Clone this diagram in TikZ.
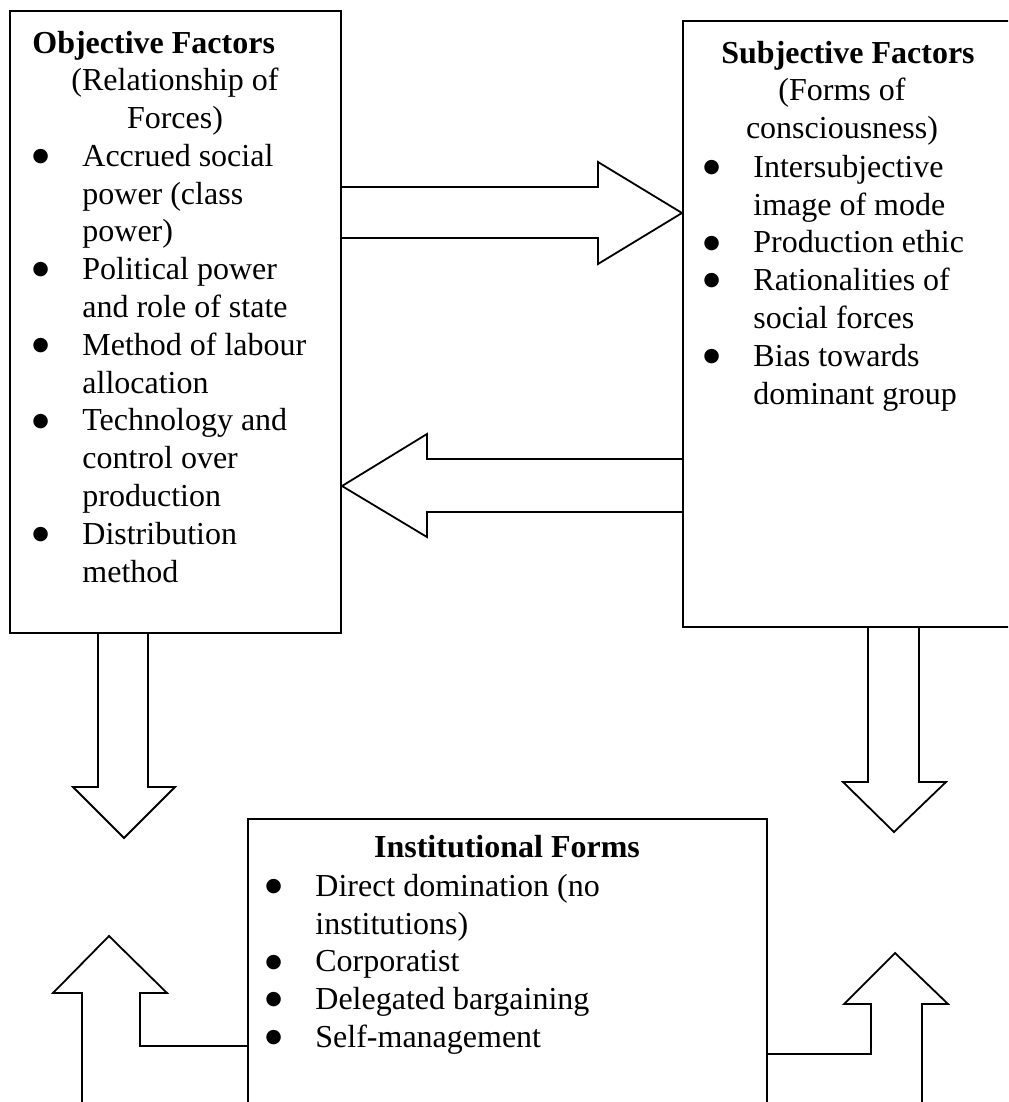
\documentclass[tikz,border=0pt]{standalone}
\usepackage{fontspec}
\setmainfont{Liberation Serif}
\newfontfamily\dotfont{DejaVu Sans}
\usetikzlibrary{fit}

\newcommand\bodyfont{\fontsize{16}{18.9}\selectfont}
\newcommand\bul{\makebox[25pt][l]{\raisebox{2.4pt}{\dotfont\fontsize{9.5}{9.5}\selectfont ●}}}
\newcommand\contd{\hspace*{25pt}}

\begin{document}
\begin{tikzpicture}[x=0.5pt,y=-0.5pt,
  box/.style={draw, line width=1pt, inner sep=0pt},
  blockarrow/.style={draw, line width=0.9pt, line join=miter},
  txt/.style={anchor=north west, inner sep=0pt, align=left, font=\bodyfont},
  ctr/.style={anchor=north, inner sep=0pt, align=center, font=\bodyfont}]
\useasboundingbox (0,0) rectangle (1008,1102);
\fill[white] (0,0) rectangle (1008,1102);
\clip (0,0) rectangle (1008,1102);

\node[box, fit={(10,11) (341,633)}] (obj) {};
\node[box, fit={(683,21) (1015,627)}] (subj) {};
\node[box, fit={(248,819) (767,1130)}] (inst) {};

% objective factors
\node[txt] (objtitle) at (32,26.5) {\strut\textbf{Objective Factors}};
\node[ctr] (objsub) at (175,63.5) {\strut(Relationship of\\Forces)};
\node[txt] (objlist) at (32,139.5) {\strut\bul Accrued social\\
  \contd power (class\\
  \contd power)\\
  \bul Political power\\
  \contd and role of state\\
  \bul Method of labour\\
  \contd allocation\\
  \bul Technology and\\
  \contd control over\\
  \contd production\\
  \bul Distribution\\
  \contd method};

% subjective factors
\node[ctr] (subjtitle) at (848,36.5) {\strut\textbf{Subjective Factors}};
\node[ctr] (subjsub) at (842,73.5) {\strut(Forms of\\consciousness)};
\node[txt] (subjlist) at (703,150.5) {\strut\bul Intersubjective\\
  \contd image of mode\\
  \bul Production ethic\\
  \bul Rationalities of\\
  \contd social forces\\
  \bul Bias towards\\
  \contd dominant group};

% institutional forms
\node[ctr] (insttitle) at (507,830.5) {\strut\textbf{Institutional Forms}};
\node[txt] (instlist) at (265,869.5) {\strut\bul Direct domination (no\\
  \contd institutions)\\
  \bul Corporatist\\
  \bul Delegated bargaining\\
  \bul Self-management};

\draw[blockarrow] (obj.east |- 0,187) -- (598,187) -- (598,162) -- (subj.west |- 0,213)
  -- (598,264) -- (598,238) -- (obj.east |- 0,238);
\draw[blockarrow] (subj.west |- 0,459) -- (427,459) -- (427,434) -- (obj.east |- 0,486)
  -- (427,537) -- (427,512) -- (subj.west |- 0,512);
\draw[blockarrow] (obj.south -| 98,0) -- (98,787) -- (73,787) -- (124,838)
  -- (175,787) -- (148,787) -- (obj.south -| 148,0);
\draw[blockarrow] (subj.south -| 868,0) -- (868,782) -- (843,782) -- (894,832)
  -- (946,782) -- (919,782) -- (subj.south -| 919,0);
\draw[blockarrow] (82,1110) -- (82,993) -- (53,993) -- (109,936) -- (167,993)
  -- (140,993) -- (140,1046) -- (inst.west |- 0,1046);
\draw[blockarrow] (inst.east |- 0,1054) -- (871,1054) -- (871,1004) -- (844,1004)
  -- (895,953) -- (948,1004) -- (922,1004) -- (922,1110);

\end{tikzpicture}
\end{document}
